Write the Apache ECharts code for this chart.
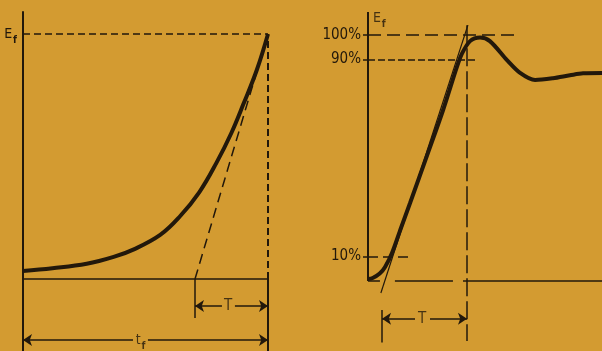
<!DOCTYPE html>
<html>
<head>
<meta charset="utf-8">
<script src="https://cdn.jsdelivr.net/npm/echarts@6/dist/echarts.min.js"></script>
<style>
  html, body { margin: 0; padding: 0; background: #d39b31; }
  #chart { width: 602px; height: 351px; }
</style>
</head>
<body>
<div id="chart"></div>
<script>
// left panel: growth up to E_f, time as a fraction of t_f, signal as a fraction of E_f
const leftTime = [0, 0.12, 0.26, 0.37, 0.45, 0.56, 0.64, 0.72, 0.79, 0.85, 0.9, 0.955, 1];
const leftSignal = [0.033, 0.044, 0.062, 0.09, 0.12, 0.18, 0.255, 0.355, 0.475, 0.595, 0.715, 0.855, 1];
const leftTangentFoot = 0.702; // where the dashed tangent meets the baseline

// right panel: step response, time in arbitrary units, signal in % of E_f
const rightTime = [0, 2, 5, 7.3, 10.3, 13.7, 17.9, 25.6, 32.1, 38, 40.2, 43.6, 47.9, 52.1, 59.4, 65, 71.4, 79, 86.3, 91.9, 100];
const rightSignal = [0.8, 1.2, 3, 5.7, 11.5, 20.5, 31.5, 52, 69.5, 87, 92.5, 97.5, 99, 97.5, 89.8, 84.6, 81.7, 82.4, 83.6, 84.4, 84.5];
const levelValues = [10, 90, 100];
const levelLabels = ['10%', '90%', '100%'];
const levelGuideEnds = [18.8, 47, 64.1];
const riseStart = 6;   // 10% point projected down
const riseEnd = 42.3;  // 90% point projected down

const ink = '#22180b';
const FONT = '"Liberation Sans Narrow", "DejaVu Sans Condensed", "Liberation Sans", sans-serif';

const rich = {
  e: { fontSize: 14, fontFamily: FONT, color: ink, lineHeight: 14, verticalAlign: 'top' },
  s: { fontSize: 10, fontFamily: FONT, fontWeight: 'bold', color: ink, lineHeight: 10, padding: [8, 0, 0, 1], verticalAlign: 'top' }
};

function seg(grid, coords, width, dash, arrow) {
  return {
    type: 'lines',
    coordinateSystem: 'cartesian2d',
    xAxisIndex: grid,
    yAxisIndex: grid,
    silent: true,
    symbol: arrow ? ['none', 'arrow'] : 'none',
    symbolSize: 9,
    lineStyle: { color: ink, width: width, type: dash || 'solid', opacity: 1, curveness: 0 },
    data: [{ coords: coords }]
  };
}

function labels(grid, items) {
  return {
    type: 'scatter',
    xAxisIndex: grid,
    yAxisIndex: grid,
    silent: true,
    symbolSize: 1,
    itemStyle: { color: 'transparent' },
    label: { show: true, position: 'inside', color: ink, fontSize: 15, fontFamily: FONT, rich: rich },
    data: items
  };
}

const zip = (xs, ys) => xs.map((x, i) => [x, ys[i]]);

const series = [
  // left panel guides
  seg(0, [[0, 1], [1, 1]], 1.5, [7, 4]),
  seg(0, [[1, 0], [1, 1]], 2, [7, 4]),
  seg(0, [[leftTangentFoot, 0], [1, 1]], 1.5, [10, 6]),
  seg(0, [[leftTangentFoot, 0], [leftTangentFoot, -0.159]], 1.5),
  seg(0, [[1, 0], [1, -0.3]], 2),
  seg(0, [[0.812, -0.11], [leftTangentFoot, -0.11]], 1.5, null, true),
  seg(0, [[0.865, -0.11], [1, -0.11]], 1.5, null, true),
  seg(0, [[0.449, -0.249], [0, -0.249]], 1.5, null, true),
  seg(0, [[0.51, -0.249], [1, -0.249]], 1.5, null, true),
  labels(0, [
    { value: [0.837, -0.11], label: { formatter: 'T' } },
    { value: [0.48, -0.25], label: { formatter: '{e|t}{s|f}' } }
  ]),

  // right panel guides
  seg(1, [[0, 0], [0, 109.3]], 2),
  seg(1, [[0, 0], [5.1, 0]], 1.5),
  seg(1, [[11.5, 0], [36.3, 0]], 1.5),
  seg(1, [[40.6, 0], [100, 0]], 1.5),
  seg(1, [[0, levelValues[2]], [levelGuideEnds[2], levelValues[2]]], 1.5, [13, 6]),
  seg(1, [[0, levelValues[1]], [levelGuideEnds[1], levelValues[1]]], 1.5, [7, 3]),
  seg(1, [[0, levelValues[0]], [levelGuideEnds[0], levelValues[0]]], 1.5, [10, 5]),
  seg(1, [[riseEnd, 104], [riseEnd, -24.4]], 1.5, [18, 5]),
  seg(1, [[riseStart, -11.8], [riseStart, -25]], 1.5),
  seg(1, [[5.5, -4.9], [42.7, 104]], 1.2),
  seg(1, [[20.1, -15.4], [riseStart, -15.4]], 1.5, null, true),
  seg(1, [[26.5, -15.4], [riseEnd, -15.4]], 1.5, null, true),
  labels(1, [
    { value: [23.1, -15.4], label: { formatter: 'T' } },
    { value: [2.1, 106.9], label: { formatter: '{e|E}{s|f}', align: 'left' } }
  ]),

  // curves
  {
    type: 'line', xAxisIndex: 0, yAxisIndex: 0, smooth: 0.4, showSymbol: false, silent: true,
    lineStyle: { color: ink, width: 4 }, data: zip(leftTime, leftSignal)
  },
  {
    type: 'line', xAxisIndex: 1, yAxisIndex: 1, smooth: 0.3, showSymbol: false, silent: true,
    lineStyle: { color: ink, width: 4 }, data: zip(rightTime, rightSignal)
  }
];

const hidden = { show: false };

const option = {
  backgroundColor: '#d39b31',
  animation: false,
  grid: [
    { left: 23, top: 11.95, width: 245, height: 340.55, outerBoundsMode: 'none' },
    { left: 368, top: 12.1, width: 234, height: 339, outerBoundsMode: 'none' }
  ],
  xAxis: [
    {
      gridIndex: 0, type: 'value', min: 0, max: 1,
      axisLine: { show: true, onZero: true, lineStyle: { color: ink, width: 1.5 } },
      axisTick: hidden, axisLabel: hidden, splitLine: hidden
    },
    {
      gridIndex: 1, type: 'value', min: 0, max: 100,
      axisLine: hidden, axisTick: hidden, axisLabel: hidden, splitLine: hidden
    }
  ],
  yAxis: [
    {
      gridIndex: 0, type: 'value', min: -0.3, max: 1.09,
      axisLine: { show: true, lineStyle: { color: ink, width: 2 } },
      axisTick: hidden, splitLine: hidden,
      axisLabel: {
        show: true, customValues: [1], margin: 6, color: ink,
        formatter: () => '{e|E}{s|f}', rich: rich
      }
    },
    {
      gridIndex: 1, type: 'value', min: -28.5, max: 109.3,
      axisLine: { show: false },
      splitLine: hidden,
      axisTick: { show: true, customValues: levelValues, length: 5, lineStyle: { color: ink, width: 1.5 } },
      axisLabel: {
        show: true, customValues: levelValues, margin: 7,
        color: ink, fontSize: 15, fontFamily: FONT,
        formatter: v => levelLabels[levelValues.indexOf(v)]
      }
    }
  ],
  series: series
};

const chart = echarts.init(document.getElementById('chart'));
chart.setOption(option);
</script>
</body>
</html>
